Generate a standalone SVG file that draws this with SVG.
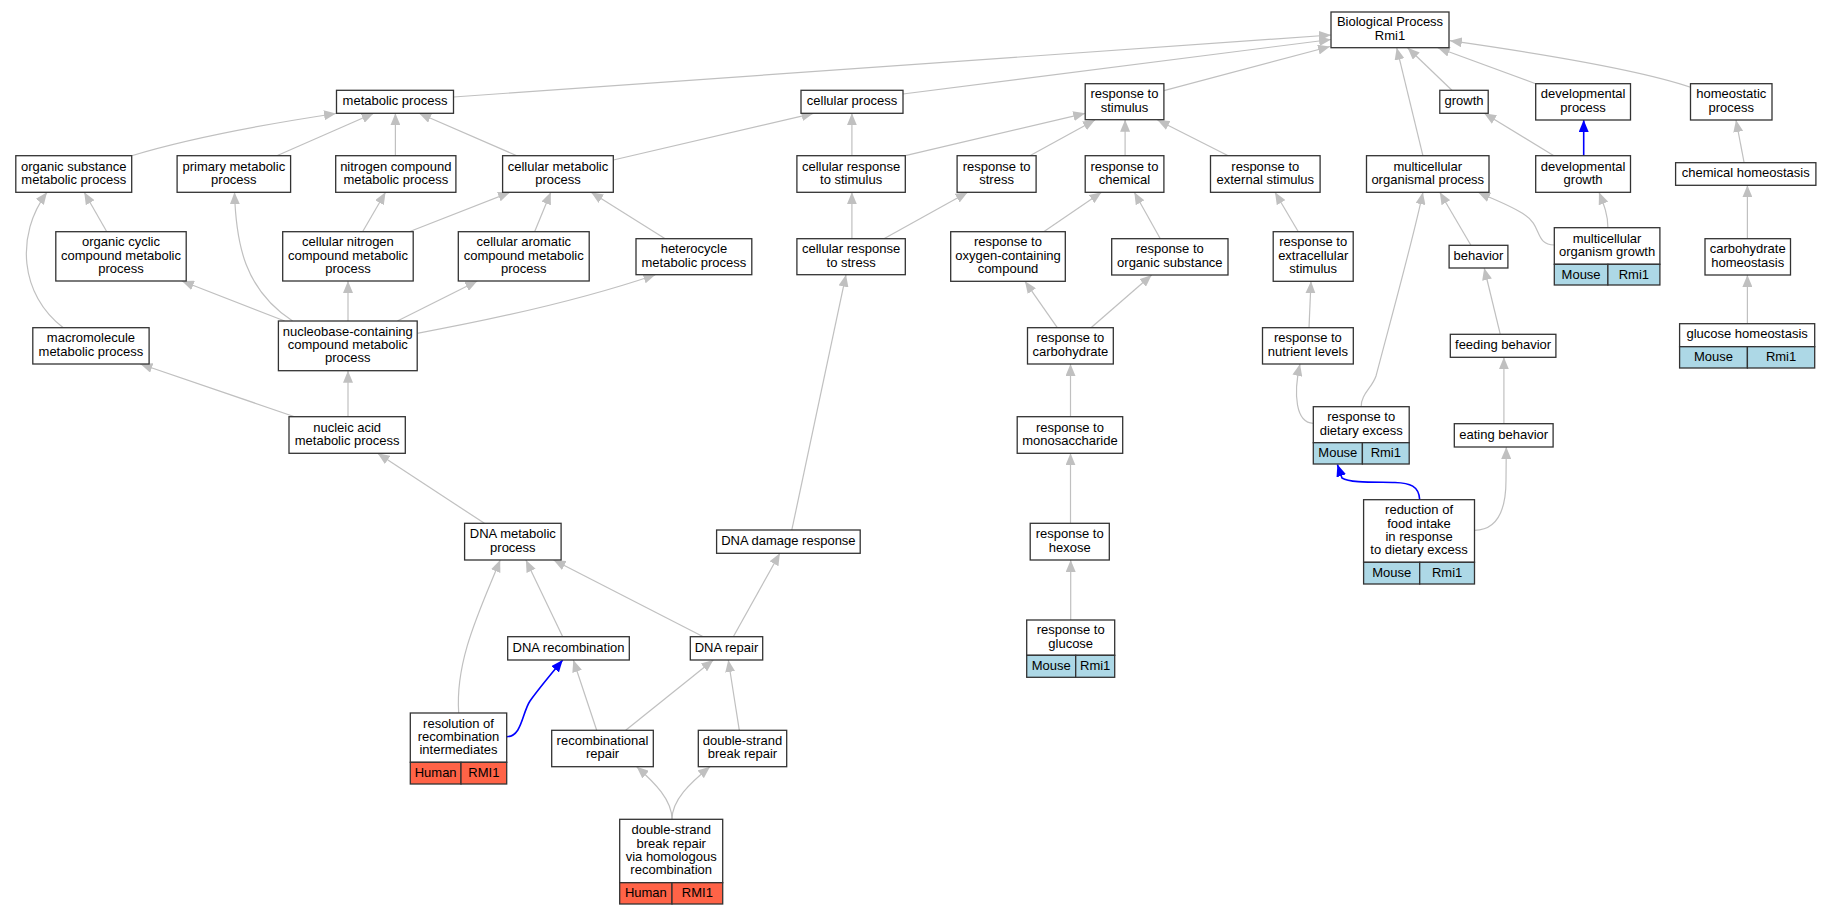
<svg xmlns="http://www.w3.org/2000/svg" width="1832" height="915" viewBox="0 0 1832 915">
<style>
.e{fill:none;stroke:#c0c0c0;stroke-width:1.2;marker-end:url(#ag)}
.b{fill:none;stroke:#0000ff;stroke-width:1.6;marker-end:url(#ab)}
rect{fill:#fff;stroke:#333;stroke-width:1.3}
rect.m{fill:#add8e6}
rect.h{fill:#ff6347}
text{font-family:"Liberation Sans",Arial,sans-serif;font-size:13px;text-anchor:middle;fill:#000}
</style>
<defs>
<marker id="ag" markerUnits="userSpaceOnUse" markerWidth="12" markerHeight="10" refX="12" refY="5" orient="auto" viewBox="0 0 12 10"><path d="M0,0 L12,5 L0,10 z" fill="#c0c0c0"/></marker>
<marker id="ab" markerUnits="userSpaceOnUse" markerWidth="12" markerHeight="10" refX="12" refY="5" orient="auto" viewBox="0 0 12 10"><path d="M0,0 L12,5 L0,10 z" fill="#0000ff"/></marker>
</defs>
<rect x="0" y="0" width="1832" height="915" style="fill:#fff;stroke:none"/>
<g id="edges">
<path class="e" d="M453.5,97 L1331,35"/>
<path class="e" d="M902.9,94 L1331,39.5"/>
<path class="e" d="M1163.9,90.7 L1330,46.5"/>
<path class="e" d="M1422.9,155.7 L1396.7,47.7"/>
<path class="e" d="M1451.9,90.3 L1407.6,47.7"/>
<path class="e" d="M1535.7,83.7 L1437.8,47.7"/>
<path class="e" d="M1690.5,87.3 C1640,70 1550,55 1449.9,40.7"/>
<path class="e" d="M131.7,155.7 C190,138 260,125 336,113.5"/>
<path class="e" d="M276.8,155.7 L373.7,113.3"/>
<path class="e" d="M395.4,155.7 L395.4,113.3"/>
<path class="e" d="M516.8,155.7 L419.1,113.3"/>
<path class="e" d="M613.3,160 L813.5,113.3"/>
<path class="e" d="M851.9,155.7 L851.9,113.3"/>
<path class="e" d="M905.3,155.7 L1085.2,113.3"/>
<path class="e" d="M1029.8,155.7 L1095,120"/>
<path class="e" d="M1125.1,155.7 L1125.1,119.7"/>
<path class="e" d="M1228.2,155.7 L1157.5,120"/>
<path class="e" d="M1553.9,155.7 L1484.2,113.3"/>
<path class="b" d="M1583.7,155.7 L1583.7,120"/>
<path class="e" d="M1744.1,162.7 L1736,120"/>
<path class="e" d="M106.8,231.7 L84.2,192.3"/>
<path class="e" d="M63.3,327.7 C20,295 15,235 47,192.3"/>
<path class="e" d="M292.6,321 C245,290 236,245 234.5,192.3"/>
<path class="e" d="M362.6,231.7 L385.5,192.3"/>
<path class="e" d="M409.2,231.7 L510,192.3"/>
<path class="e" d="M534.6,231.7 L550.8,192.3"/>
<path class="e" d="M665.2,238.7 L591.1,192.3"/>
<path class="e" d="M851.9,238.7 L851.9,192.3"/>
<path class="e" d="M883.9,238.7 L967.7,192.3"/>
<path class="e" d="M1043.7,231.7 L1101.5,192.3"/>
<path class="e" d="M1160.3,238.7 L1134.3,192.3"/>
<path class="e" d="M1298.3,231.7 L1275,192.3"/>
<path class="e" d="M1470.9,245.3 L1439.8,192.3"/>
<path class="e" d="M1554.3,245 C1535,245 1542,226 1525,215 C1512,206 1495,200 1478.1,192.3"/>
<path class="e" d="M1607.9,227.7 C1608,215 1604,205 1599,192.3"/>
<path class="e" d="M1747.4,238.7 L1747.4,185.3"/>
<path class="e" d="M284.7,321 L181.9,281"/>
<path class="e" d="M348,321 L348,281"/>
<path class="e" d="M397.4,321 L477.3,281"/>
<path class="e" d="M417.2,333.3 C500,318 590,297 655.4,274.7"/>
<path class="e" d="M1057.3,327.7 L1025,281.3"/>
<path class="e" d="M1091,327.7 L1151.7,275"/>
<path class="e" d="M1309,327.7 L1311,281.3"/>
<path class="e" d="M1500.3,334.3 L1484.2,268"/>
<path class="e" d="M1747.4,323.7 L1747.4,275"/>
<path class="e" d="M294.6,416.7 L140.4,364"/>
<path class="e" d="M348,416.7 L348,370.7"/>
<path class="e" d="M1070.5,416.7 L1070.5,364"/>
<path class="e" d="M1313.3,423.3 C1296,423 1293,395 1300,364"/>
<path class="e" d="M1361.2,406.7 C1361,394 1372,388 1376,376 C1388,330 1414,236 1422.9,192.3"/>
<path class="e" d="M1503.9,423.7 L1503.9,357.3"/>
<path class="e" d="M484.4,523.3 L377.6,453.3"/>
<path class="e" d="M791.8,530 L846,274.7"/>
<path class="e" d="M1070.5,523.3 L1070.5,453.3"/>
<path class="b" d="M1419.7,499.7 C1419,486 1410,483 1395,482.5 C1375,482 1350,483 1342,478 L1337.4,464.5"/>
<path class="e" d="M1474.5,530.3 C1500,530 1506,505 1506,480 L1506.3,447"/>
<path class="e" d="M562.7,636.7 L525.9,560"/>
<path class="e" d="M703.3,636.7 L553.6,560"/>
<path class="e" d="M733.3,636.7 L779.9,553.3"/>
<path class="e" d="M458.7,713 C455,660 480,610 500.2,560"/>
<path class="b" d="M506.7,736.7 C522,736.7 522,713 530,701 C540,687 552,673 562.7,660"/>
<path class="e" d="M596.7,730.3 L573.3,660"/>
<path class="e" d="M625.7,730.3 L713.3,660"/>
<path class="e" d="M739.3,730.3 L728.3,660"/>
<path class="e" d="M672,819.3 C672,800 655,783 636.7,766.7"/>
<path class="e" d="M672,819.3 C672,800 690,783 710,766.7"/>
<path class="e" d="M1070.7,620 L1070.7,560"/>
</g>
<g id="n_bp"><rect x="1331" y="12" width="118" height="35.7"/><text x="1390" y="26.4">Biological Process</text><text x="1390" y="39.7">Rmi1</text></g>
<g id="n_metabolic"><rect x="336.5" y="90.3" width="117" height="23"/><text x="395" y="105">metabolic process</text></g>
<g id="n_cellproc"><rect x="801" y="90.3" width="102" height="23"/><text x="852" y="105">cellular process</text></g>
<g id="n_respstim"><rect x="1085.2" y="83.7" width="78.7" height="36"/><text x="1124.5" y="98.3">response to</text><text x="1124.5" y="111.6">stimulus</text></g>
<g id="n_growth"><rect x="1439.8" y="90.3" width="48.4" height="23"/><text x="1464" y="105">growth</text></g>
<g id="n_devproc"><rect x="1535.7" y="83.7" width="94.8" height="36.3"/><text x="1583.1" y="98.4">developmental</text><text x="1583.1" y="111.7">process</text></g>
<g id="n_homeo"><rect x="1690.5" y="83.7" width="81.5" height="36.3"/><text x="1731.25" y="98.4">homeostatic</text><text x="1731.25" y="111.7">process</text></g>
<g id="n_orgsub"><rect x="15.8" y="155.7" width="115.9" height="36.6"/><text x="73.75" y="170.6">organic substance</text><text x="73.75" y="183.9">metabolic process</text></g>
<g id="n_primary"><rect x="177.1" y="155.7" width="113.5" height="36.6"/><text x="233.85" y="170.6">primary metabolic</text><text x="233.85" y="183.9">process</text></g>
<g id="n_nitro"><rect x="335.7" y="155.7" width="120.2" height="36.6"/><text x="395.8" y="170.6">nitrogen compound</text><text x="395.8" y="183.9">metabolic process</text></g>
<g id="n_cellmet"><rect x="502.6" y="155.7" width="110.7" height="36.6"/><text x="557.95" y="170.6">cellular metabolic</text><text x="557.95" y="183.9">process</text></g>
<g id="n_cellrespstim"><rect x="796.9" y="155.7" width="108.4" height="36.6"/><text x="851.1" y="170.6">cellular response</text><text x="851.1" y="183.9">to stimulus</text></g>
<g id="n_respstress"><rect x="957.1" y="155.7" width="79" height="36.6"/><text x="996.6" y="170.6">response to</text><text x="996.6" y="183.9">stress</text></g>
<g id="n_respchem"><rect x="1085.2" y="155.7" width="78.7" height="36.6"/><text x="1124.5" y="170.6">response to</text><text x="1124.5" y="183.9">chemical</text></g>
<g id="n_respext"><rect x="1210.5" y="155.7" width="109.6" height="36.6"/><text x="1265.3" y="170.6">response to</text><text x="1265.3" y="183.9">external stimulus</text></g>
<g id="n_mop"><rect x="1366.5" y="155.7" width="122.5" height="36.6"/><text x="1427.75" y="170.6">multicellular</text><text x="1427.75" y="183.9">organismal process</text></g>
<g id="n_devgrowth"><rect x="1535.7" y="155.7" width="94.8" height="36.6"/><text x="1583.1" y="170.6">developmental</text><text x="1583.1" y="183.9">growth</text></g>
<g id="n_chemhomeo"><rect x="1675.6" y="162.7" width="140.3" height="22.6"/><text x="1745.75" y="177.2">chemical homeostasis</text></g>
<g id="n_orgcyc"><rect x="55.8" y="231.7" width="130.4" height="49.3"/><text x="121" y="246.3">organic cyclic</text><text x="121" y="259.6">compound metabolic</text><text x="121" y="272.9">process</text></g>
<g id="n_cellnitro"><rect x="282.7" y="231.7" width="130.5" height="49.3"/><text x="347.95" y="246.3">cellular nitrogen</text><text x="347.95" y="259.6">compound metabolic</text><text x="347.95" y="272.9">process</text></g>
<g id="n_cellarom"><rect x="458.3" y="231.7" width="130.9" height="49.3"/><text x="523.75" y="246.3">cellular aromatic</text><text x="523.75" y="259.6">compound metabolic</text><text x="523.75" y="272.9">process</text></g>
<g id="n_hetero"><rect x="636" y="238.7" width="115.8" height="36"/><text x="693.9" y="253.3">heterocycle</text><text x="693.9" y="266.6">metabolic process</text></g>
<g id="n_cellrespstress"><rect x="796.9" y="238.7" width="108.4" height="36"/><text x="851.1" y="253.3">cellular response</text><text x="851.1" y="266.6">to stress</text></g>
<g id="n_oxy"><rect x="950.7" y="231.7" width="114.6" height="49.6"/><text x="1008" y="246.4">response to</text><text x="1008" y="259.7">oxygen-containing</text><text x="1008" y="273">compound</text></g>
<g id="n_orgsubresp"><rect x="1111.7" y="238.7" width="116.3" height="36.3"/><text x="1169.85" y="253.4">response to</text><text x="1169.85" y="266.7">organic substance</text></g>
<g id="n_extracell"><rect x="1273.2" y="231.7" width="80" height="49.6"/><text x="1313.2" y="246.4">response to</text><text x="1313.2" y="259.7">extracellular</text><text x="1313.2" y="273">stimulus</text></g>
<g id="n_behavior"><rect x="1449.1" y="245.3" width="58.8" height="22.7"/><text x="1478.5" y="259.9">behavior</text></g>
<g id="n_mcgrowth"><rect x="1554.3" y="227.7" width="105.6" height="36.6"/><rect class="m" x="1554.3" y="264.3" width="53.6" height="20.7"/><rect class="m" x="1607.9" y="264.3" width="52" height="20.7"/><text x="1607.1" y="242.6">multicellular</text><text x="1607.1" y="255.9">organism growth</text><text x="1581.1" y="279">Mouse</text><text x="1633.9" y="279">Rmi1</text></g>
<g id="n_carbhomeo"><rect x="1705" y="238.7" width="85.5" height="36.3"/><text x="1747.75" y="253.4">carbohydrate</text><text x="1747.75" y="266.7">homeostasis</text></g>
<g id="n_macro"><rect x="32.8" y="327.7" width="116.3" height="36.3"/><text x="90.95" y="342.4">macromolecule</text><text x="90.95" y="355.7">metabolic process</text></g>
<g id="n_nucleobase"><rect x="278.4" y="321" width="138.8" height="49.7"/><text x="347.8" y="335.8">nucleobase-containing</text><text x="347.8" y="349.1">compound metabolic</text><text x="347.8" y="362.4">process</text></g>
<g id="n_respcarb"><rect x="1027.5" y="327.7" width="85.8" height="36.3"/><text x="1070.4" y="342.4">response to</text><text x="1070.4" y="355.7">carbohydrate</text></g>
<g id="n_nutrient"><rect x="1262.5" y="327.7" width="90.8" height="36.3"/><text x="1307.9" y="342.4">response to</text><text x="1307.9" y="355.7">nutrient levels</text></g>
<g id="n_feeding"><rect x="1450.3" y="334.3" width="105.6" height="23"/><text x="1503.1" y="349">feeding behavior</text></g>
<g id="n_gluchomeo"><rect x="1679.6" y="323.7" width="135.1" height="23"/><rect class="m" x="1679.6" y="346.7" width="67.8" height="21.3"/><rect class="m" x="1747.4" y="346.7" width="67.3" height="21.3"/><text x="1747.15" y="338.4">glucose homeostasis</text><text x="1713.5" y="361.4">Mouse</text><text x="1781.05" y="361.4">Rmi1</text></g>
<g id="n_nucleic"><rect x="289" y="416.7" width="116.3" height="36.6"/><text x="347.15" y="431.6">nucleic acid</text><text x="347.15" y="444.9">metabolic process</text></g>
<g id="n_mono"><rect x="1017.2" y="416.7" width="105.5" height="36.6"/><text x="1069.95" y="431.6">response to</text><text x="1069.95" y="444.9">monosaccharide</text></g>
<g id="n_dietary"><rect x="1313.3" y="406.7" width="95.9" height="36"/><rect class="m" x="1313.3" y="442.7" width="49.1" height="21.3"/><rect class="m" x="1362.4" y="442.7" width="46.8" height="21.3"/><text x="1361.25" y="421.3">response to</text><text x="1361.25" y="434.6">dietary excess</text><text x="1337.85" y="457.4">Mouse</text><text x="1385.8" y="457.4">Rmi1</text></g>
<g id="n_eating"><rect x="1454.3" y="423.7" width="98.8" height="23.3"/><text x="1503.7" y="438.6">eating behavior</text></g>
<g id="n_reduction"><rect x="1363.6" y="499.7" width="110.9" height="62.6"/><rect class="m" x="1363.6" y="562.3" width="56.1" height="21.7"/><rect class="m" x="1419.7" y="562.3" width="54.8" height="21.7"/><text x="1419.05" y="514.3">reduction of</text><text x="1419.05" y="527.6">food intake</text><text x="1419.05" y="540.9">in response</text><text x="1419.05" y="554.2">to dietary excess</text><text x="1391.65" y="577.2">Mouse</text><text x="1447.1" y="577.2">Rmi1</text></g>
<g id="n_dnamet"><rect x="464.6" y="523.3" width="96.5" height="36.7"/><text x="512.85" y="538.2">DNA metabolic</text><text x="512.85" y="551.5">process</text></g>
<g id="n_dnadamage"><rect x="716.6" y="530" width="143.6" height="23.3"/><text x="788.4" y="544.9">DNA damage response</text></g>
<g id="n_hexose"><rect x="1030.2" y="523.3" width="79.1" height="36.7"/><text x="1069.75" y="538.2">response to</text><text x="1069.75" y="551.5">hexose</text></g>
<g id="n_glucose"><rect x="1026.7" y="620" width="88" height="35.3"/><rect class="m" x="1026.7" y="655.3" width="49" height="22"/><rect class="m" x="1075.7" y="655.3" width="39" height="22"/><text x="1070.7" y="634.2">response to</text><text x="1070.7" y="647.5">glucose</text><text x="1051.2" y="670.3">Mouse</text><text x="1095.2" y="670.3">Rmi1</text></g>
<g id="n_dnarecomb"><rect x="507.7" y="636.7" width="121.6" height="23.3"/><text x="568.5" y="651.6">DNA recombination</text></g>
<g id="n_dnarepair"><rect x="690.3" y="636.7" width="72.4" height="23.3"/><text x="726.5" y="651.6">DNA repair</text></g>
<g id="n_resolution"><rect x="410.3" y="713" width="96.4" height="49.3"/><rect class="h" x="410.3" y="762.3" width="50.7" height="21.7"/><rect class="h" x="461" y="762.3" width="45.7" height="21.7"/><text x="458.5" y="727.6">resolution of</text><text x="458.5" y="740.9">recombination</text><text x="458.5" y="754.2">intermediates</text><text x="435.65" y="777.2">Human</text><text x="483.85" y="777.2">RMI1</text></g>
<g id="n_recombrepair"><rect x="551.7" y="730.3" width="101.6" height="36.4"/><text x="602.5" y="745.1">recombinational</text><text x="602.5" y="758.4">repair</text></g>
<g id="n_dsbrepair"><rect x="698.3" y="730.3" width="88.4" height="36.4"/><text x="742.5" y="745.1">double-strand</text><text x="742.5" y="758.4">break repair</text></g>
<g id="n_dsbhr"><rect x="619.7" y="819.3" width="103" height="63.4"/><rect class="h" x="619.7" y="882.7" width="52.3" height="21.3"/><rect class="h" x="672" y="882.7" width="50.7" height="21.3"/><text x="671.2" y="834.3">double-strand</text><text x="671.2" y="847.6">break repair</text><text x="671.2" y="860.9">via homologous</text><text x="671.2" y="874.2">recombination</text><text x="645.85" y="897.4">Human</text><text x="697.35" y="897.4">RMI1</text></g>
</svg>
